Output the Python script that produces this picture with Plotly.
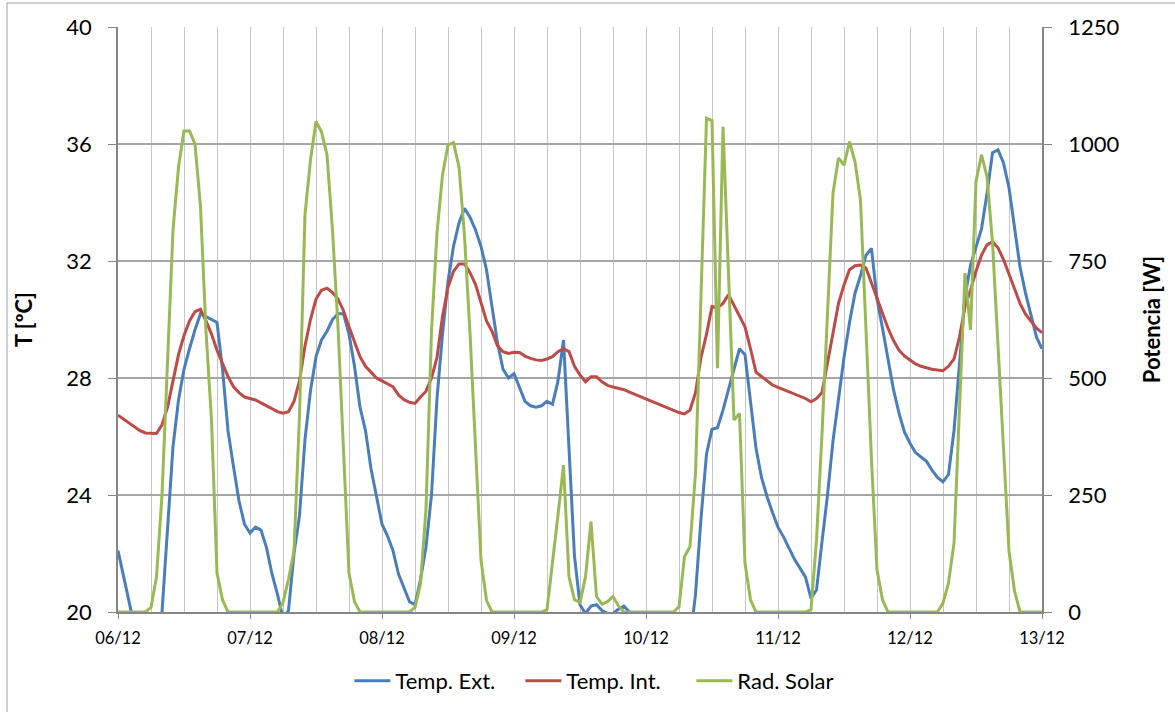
import pandas as pd
import plotly.graph_objects as go

# hourly timestamps 06/12 00:00 .. 13/12 00:00
times = pd.date_range("2012-12-06 00:00", periods=169, freq="h")

day_labels = ["06/12", "07/12", "08/12", "09/12", "10/12", "11/12", "12/12", "13/12"]

temp_ext = [
    22.1, 21.2, 20.3, 19.5, 19.2, 19.0, 19.0, 19.0, 20.0, 22.9, 25.65, 27.25, 28.3, 29.0, 29.65, 30.2, 30.1, 30.0, 29.9, 28.3, 26.2, 24.97, 23.8, 23.0,
    22.7, 22.9, 22.8, 22.2, 21.3, 20.6, 19.8, 20.05, 22.0, 23.3, 25.9, 27.57, 28.73, 29.3, 29.6, 30.0, 30.2, 30.2, 29.5, 28.4, 27.0, 26.2, 24.9, 23.95,
    23.0, 22.6, 22.1, 21.3, 20.8, 20.35, 20.25, 21.1, 22.23, 24.0, 27.3, 29.5, 31.3, 32.5, 33.3, 33.8, 33.5, 33.06, 32.5, 31.7, 30.44, 29.2, 28.3, 28.0,
    28.15, 27.7, 27.2, 27.05, 27.0, 27.05, 27.2, 27.1, 27.9, 29.3, 25.6, 21.9, 20.25, 19.95, 20.2, 20.25, 20.05, 19.95, 19.95, 20.1, 20.2, 20.0, 19.5, 19.0,
    19.0, 19.0, 19.0, 19.0, 19.0, 19.0, 19.0, 19.0, 19.0, 20.6, 23.2, 25.4, 26.25, 26.3, 26.9, 27.6, 28.3, 29.0, 28.8, 27.1, 25.6, 24.6, 23.95, 23.4,
    22.9, 22.57, 22.2, 21.8, 21.5, 21.19, 20.47, 20.75, 22.4, 24.0, 25.85, 27.3, 28.7, 29.9, 30.9, 31.5, 32.2, 32.43, 30.7, 29.7, 28.6, 27.6, 26.8, 26.15,
    25.77, 25.45, 25.3, 25.15, 24.85, 24.6, 24.45, 24.7, 26.2, 28.6, 30.78, 31.85, 32.5, 33.1, 34.3, 35.7, 35.8, 35.35, 34.5, 33.2, 31.8, 30.9, 30.1, 29.4,
    29.0,
]

temp_int = [
    26.73, 26.6, 26.45, 26.35, 26.2, 26.12, 26.1, 26.1, 26.4, 27.0, 27.9, 28.8, 29.45, 29.95, 30.27, 30.35, 29.95, 29.5, 28.95, 28.5, 28.05, 27.7, 27.5, 27.35,
    27.3, 27.25, 27.15, 27.05, 26.95, 26.85, 26.8, 26.85, 27.2, 27.9, 29.1, 30.0, 30.7, 31.0, 31.07, 30.92, 30.7, 30.3, 29.75, 29.24, 28.73, 28.4, 28.2, 28.0,
    27.9, 27.8, 27.7, 27.42, 27.26, 27.17, 27.13, 27.35, 27.55, 28.0, 28.7, 30.1, 31.1, 31.65, 31.9, 31.9, 31.6, 31.2, 30.6, 29.95, 29.6, 29.1, 28.9, 28.84,
    28.88, 28.87, 28.75, 28.67, 28.62, 28.6, 28.65, 28.73, 28.9, 29.0, 28.9, 28.4, 28.1, 27.87, 28.04, 28.04, 27.87, 27.75, 27.69, 27.64, 27.6, 27.52, 27.44, 27.37,
    27.3, 27.22, 27.13, 27.04, 26.96, 26.9, 26.82, 26.77, 26.9, 27.5, 28.7, 29.5, 30.44, 30.4, 30.55, 30.85, 30.5, 30.15, 29.75, 29.0, 28.2, 28.05, 27.9, 27.76,
    27.68, 27.6, 27.52, 27.44, 27.37, 27.3, 27.19, 27.3, 27.5, 28.5, 29.45, 30.55, 31.18, 31.7, 31.84, 31.86, 31.76, 31.25, 30.77, 30.22, 29.7, 29.28, 28.95, 28.75,
    28.6, 28.48, 28.4, 28.34, 28.3, 28.27, 28.25, 28.4, 28.65, 29.4, 30.44, 31.0, 31.65, 32.2, 32.55, 32.66, 32.45, 32.05, 31.55, 31.0, 30.55, 30.18, 29.93, 29.7,
    29.55,
]

rad_solar = [
    0, 0, 0, 0, 0, 0, 10, 75, 250, 530, 816, 951, 1028, 1028, 1000, 866, 600, 410, 83, 26, 0, 0, 0, 0,
    0, 0, 0, 0, 0, 0, 20, 70, 130, 420, 850, 966, 1048, 1026, 977, 816, 610, 339, 83, 22, 0, 0, 0, 0,
    0, 0, 0, 0, 0, 0, 10, 60, 220, 600, 810, 934, 998, 1003, 951, 804, 596, 361, 111, 25, 0, 0, 0, 0,
    0, 0, 0, 0, 0, 0, 5, 100, 207, 314, 75, 26, 20, 75, 193, 33, 17, 22, 33, 13, 0, 0, 0, 0,
    0, 0, 0, 0, 0, 0, 11, 118, 140, 297, 676, 1055, 1050, 521, 1037, 724, 410, 424, 104, 26, 0, 0, 0, 0,
    0, 0, 0, 0, 0, 0, 5, 154, 380, 637, 895, 970, 955, 1005, 962, 880, 603, 325, 90, 26, 0, 0, 0, 0,
    0, 0, 0, 0, 0, 0, 19, 62, 147, 440, 724, 603, 920, 977, 930, 790, 560, 330, 130, 45, 0, 0, 0, 0,
    0,
]

FONT = "Lato"
AXIS_GREY = "#868686"

fig = go.Figure()
fig.add_trace(go.Scatter(x=times, y=temp_ext, name="Temp. Ext.", mode="lines",
                         line=dict(color="#4A7EBB", width=3)))
fig.add_trace(go.Scatter(x=times, y=temp_int, name="Temp. Int.", mode="lines",
                         line=dict(color="#BE4B48", width=3)))
fig.add_trace(go.Scatter(x=times, y=rad_solar, name="Rad. Solar", mode="lines", yaxis="y2",
                         line=dict(color="#98B954", width=3)))

tick_days = list(pd.date_range("2012-12-06", periods=8, freq="D"))

fig.update_layout(
    width=1175, height=712,
    margin=dict(l=118, r=133, t=27, b=100, autoexpand=False),
    paper_bgcolor="white", plot_bgcolor="white",
    font=dict(family=FONT, color="black"),
    showlegend=True,
    legend=dict(orientation="h", x=0.528, xanchor="center", y=-0.082, yanchor="top",
                font=dict(size=22, family=FONT), itemwidth=36, entrywidth=120),
    xaxis=dict(
        type="date", range=[times[0], times[-1]],
        tickvals=tick_days, ticktext=day_labels,
        tickfont=dict(size=16.5, family=FONT),
        ticks="outside", ticklen=5, tickcolor=AXIS_GREY,
        showline=True, linecolor=AXIS_GREY, linewidth=1.5,
        showgrid=True, gridcolor="#c6c6c6", gridwidth=1.3,
        minor=dict(dtick=6 * 3600000, showgrid=True, gridcolor="#c6c6c6", gridwidth=1.3, ticks=""),
        ticklabelstandoff=5,
    ),
    yaxis=dict(
        range=[20, 40], tick0=20, dtick=4,
        tickfont=dict(size=22, family=FONT),
        ticks="outside", ticklen=8, tickcolor=AXIS_GREY,
        showline=True, linecolor=AXIS_GREY, linewidth=1.5,
        showgrid=True, gridcolor="#a6a6a6", gridwidth=1.5, zeroline=False,
        title=dict(text="<b>T [ºC]</b>", font=dict(size=22, family=FONT), standoff=28),
        ticklabelstandoff=12,
    ),
    yaxis2=dict(
        range=[0, 1250], tick0=0, dtick=250, overlaying="y", side="right",
        tickfont=dict(size=22, family=FONT),
        ticks="outside", ticklen=8, tickcolor=AXIS_GREY,
        showline=True, linecolor=AXIS_GREY, linewidth=1.5,
        showgrid=False, zeroline=False,
        title=dict(text="<b>Potencia [W]</b>", font=dict(size=22, family=FONT), standoff=26),
        ticklabelstandoff=12,
    ),
)

# outer chart-area border (left and top edges visible)
fig.add_shape(type="line", xref="paper", yref="paper", x0=-0.1201, x1=-0.1201, y0=-0.171, y1=1.041,
              line=dict(color="#a0a0a0", width=1))
fig.add_shape(type="line", xref="paper", yref="paper", x0=-0.1201, x1=1.144, y0=1.041, y1=1.041,
              line=dict(color="#a0a0a0", width=1))

fig.write_html("out.html", config={"displayModeBar": False},
               post_script="document.body.style.margin='0';")
